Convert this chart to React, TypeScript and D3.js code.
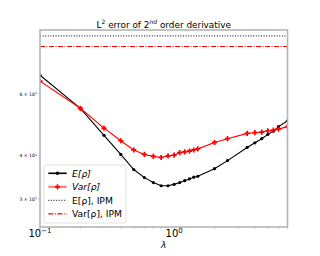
import * as d3 from "d3";

const lambdas = [0.1, 0.2, 0.3, 0.4, 0.5, 0.6, 0.7, 0.8, 0.9, 1.0, 1.1, 1.2, 1.3, 1.4, 1.5, 2, 2.5, 3.5, 4, 4.5, 5, 5.5, 6, 7];
const meanErr = [67.9, 54.6, 45.7, 40.3, 36.5, 34.6, 33.5, 32.8, 32.8, 33.1, 33.5, 33.9, 34.3, 34.7, 34.9, 36.7, 38.7, 42.2, 43.5, 44.7, 46.0, 47.0, 48.4, 50.3];
const varErr = [65.3, 54.6, 47.9, 44.1, 41.5, 40.3, 39.8, 39.5, 39.9, 40.1, 40.8, 41.0, 41.2, 41.5, 41.8, 43.6, 44.7, 46.3, 46.5, 46.7, 47.1, 47.3, 47.6, 48.4];
const meanIPM = 87.9;
const varIPM = 82.0;
const yTicks = [30, 40, 60];
const yTickLabels = ["3", "4", "6"];
const xMajor = [0.1, 1];
const xMinor = [0.2, 0.3, 0.4, 0.5, 0.6, 0.7, 0.8, 0.9, 2, 3, 4, 5, 6, 7];

const W = 320;
const H = 256;
const left = 40;
const right = 287.5;
const top = 30;
const bottom = 227;
const FONT = "DejaVu Sans";
const FRAME = "#b5b5b5";

export default function App() {
  const x = d3.scaleLog().domain([0.1, 7]).range([left, right]);
  const y = d3.scaleLog().domain([25.0, 91.4]).range([bottom, top]);

  const line = d3
    .line<number>()
    .x((_, i) => x(lambdas[i]))
    .y((d) => y(d));

  const plus = d3.symbol().type(d3.symbolCross).size(15)() as string;

  const legendRows = [173.3, 186.8, 200.3, 213.8];

  return (
    <svg
      width={W}
      height={H}
      style={{ position: "absolute", left: 0, top: 0, background: "#fff" }}
      fontFamily={FONT}
    >
      <defs>
        <clipPath id="plot-clip">
          <rect x={left} y={top} width={right - left} height={bottom - top} />
        </clipPath>
      </defs>

      {/* title */}
      <text x={(left + right) / 2} y={27.5} fontSize={8.9} textAnchor="middle" fill="#000">
        L<tspan dy={-3.2} fontSize={6}>2</tspan>
        <tspan dy={3.2}> error of 2</tspan>
        <tspan dy={-3.2} fontSize={6} fontStyle="italic">nd</tspan>
        <tspan dy={3.2}> order derivative</tspan>
      </text>

      <g clipPath="url(#plot-clip)">
        {/* IPM reference lines */}
        <line x1={left} x2={right} y1={y(meanIPM)} y2={y(meanIPM)} stroke="#000" strokeWidth={1} strokeDasharray="1,1.6" />
        <line x1={left} x2={right} y1={y(varIPM)} y2={y(varIPM)} stroke="#ff0000" strokeWidth={1.2} strokeDasharray="5,1.5,1,1.5" />

        {/* E[rho] */}
        <path d={line(meanErr) ?? ""} fill="none" stroke="#000" strokeWidth={1.1} />
        {meanErr.map((v, i) => (
          <circle key={"m" + i} cx={x(lambdas[i])} cy={y(v)} r={1.6} fill="#000" />
        ))}

        {/* Var[rho] */}
        <path d={line(varErr) ?? ""} fill="none" stroke="#ff0000" strokeWidth={1.1} />
        {varErr.map((v, i) => (
          <path key={"v" + i} d={plus} transform={`translate(${x(lambdas[i])},${y(v)})`} fill="#ff0000" />
        ))}
      </g>

      {/* frame */}
      <rect x={left} y={top} width={right - left} height={bottom - top} fill="none" stroke={FRAME} strokeWidth={1.6} />

      {/* x ticks */}
      {xMajor.map((t) => (
        <line key={"xM" + t} x1={x(t)} x2={x(t)} y1={bottom} y2={bottom + 3.5} stroke={FRAME} strokeWidth={0.8} />
      ))}
      {xMinor.map((t) => (
        <line key={"xm" + t} x1={x(t)} x2={x(t)} y1={bottom} y2={bottom + 2} stroke={FRAME} strokeWidth={0.6} />
      ))}
      <text x={x(0.1)} y={237} fontSize={10} textAnchor="middle" fill="#000">
        10<tspan dy={-4} fontSize={7}>−1</tspan>
      </text>
      <text x={x(1)} y={237} fontSize={10} textAnchor="middle" fill="#000">
        10<tspan dy={-4} fontSize={7}>0</tspan>
      </text>
      <text x={(left + right) / 2} y={248} fontSize={9} textAnchor="middle" fontStyle="italic" fill="#000">
        λ
      </text>

      {/* y ticks */}
      {yTicks.map((t, i) => (
        <g key={"y" + t}>
          <line x1={left - 2} x2={left} y1={y(t)} y2={y(t)} stroke={FRAME} strokeWidth={0.6} />
          <text x={left - 3} y={y(t) + 1.6} fontSize={4.6} textAnchor="end" fill="#000">
            {yTickLabels[i]} × 10<tspan dy={-1.6} fontSize={3.2}>1</tspan>
          </text>
        </g>
      ))}

      {/* legend */}
      <rect x={44} y={165} width={82} height={58} rx={2} fill="#fff" fillOpacity={0.8} stroke="#d9d9d9" strokeWidth={0.8} />
      <line x1={48.3} x2={66.7} y1={legendRows[0]} y2={legendRows[0]} stroke="#000" strokeWidth={1.6} />
      <circle cx={57.5} cy={legendRows[0]} r={1.7} fill="#000" />
      <text x={72} y={legendRows[0] + 3.2} fontSize={9.2} fontStyle="italic" fill="#000">E[ρ]</text>

      <line x1={48.3} x2={66.7} y1={legendRows[1]} y2={legendRows[1]} stroke="#ff0000" strokeOpacity={0.5} strokeWidth={2.2} />
      <path d={plus} transform={`translate(57.5,${legendRows[1]})`} fill="#ff0000" />
      <text x={72} y={legendRows[1] + 3.2} fontSize={9.2} fontStyle="italic" fill="#000">Var[ρ]</text>

      <line x1={48.3} x2={66.7} y1={legendRows[2]} y2={legendRows[2]} stroke="#000" strokeWidth={1} strokeDasharray="1,1.6" />
      <text x={72} y={legendRows[2] + 3.2} fontSize={9.2} fill="#000">E[ρ], IPM</text>

      <line x1={48.3} x2={66.7} y1={legendRows[3]} y2={legendRows[3]} stroke="#ff0000" strokeWidth={1.2} strokeDasharray="5,1.5,1,1.5" />
      <text x={72} y={legendRows[3] + 3.2} fontSize={9.2} fill="#000">Var[ρ], IPM</text>
    </svg>
  );
}
